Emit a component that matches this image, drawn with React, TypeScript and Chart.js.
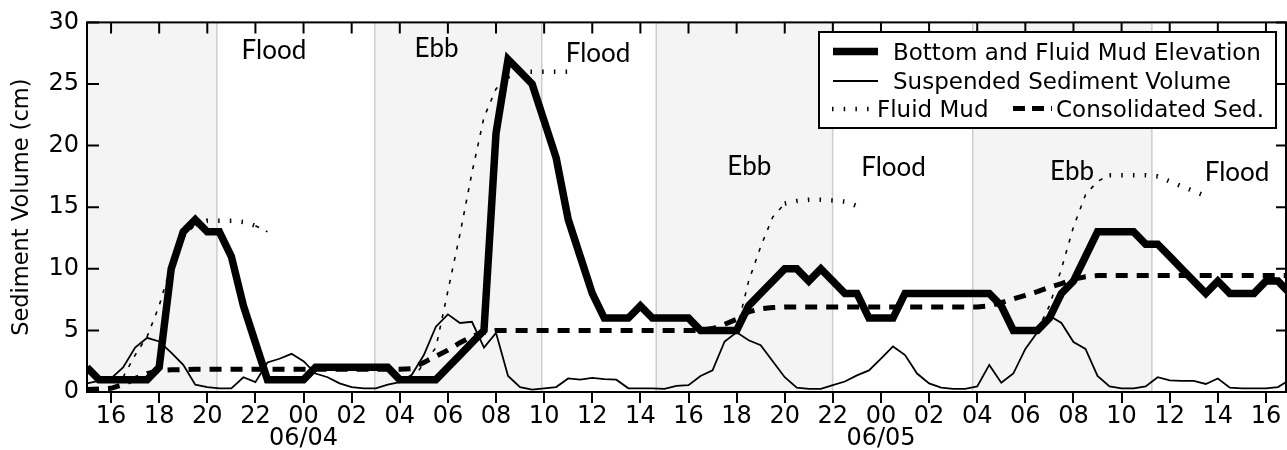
import React, { useEffect, useRef } from 'react';
import { Chart, registerables } from 'chart.js';

Chart.register(...registerables);

// Time axis: hours relative to 06/04 00:00, sampled every 30 minutes
const START_HOUR = -9;
const STEP_HOURS = 0.5;

const bottomElevation = [
  2, 1, 1, 1, 1, 1, 2, 10, 13, 14,
  13, 13, 11, 7, 4, 1, 1, 1, 1, 2,
  2, 2, 2, 2, 2, 2, 1, 1, 1, 1,
  2, 3, 4, 5, 21, 27, 26, 25, 22, 19,
  14, 11, 8, 6, 6, 6, 7, 6, 6, 6,
  6, 5, 5, 5, 5, 7, 8, 9, 10, 10,
  9, 10, 9, 8, 8, 6, 6, 6, 8, 8,
  8, 8, 8, 8, 8, 8, 7, 5, 5, 5,
  6, 8, 9, 11, 13, 13, 13, 13, 12, 12,
  11, 10, 9, 8, 9, 8, 8, 8, 9, 9,
  8,
];

const suspendedVolume = [
  0.7, 0.9, 1.1, 2.0, 3.6, 4.4, 4.1, 3.2, 2.2, 0.6,
  0.4, 0.3, 0.3, 1.2, 0.8, 2.4, 2.7, 3.1, 2.5, 1.5,
  1.2, 0.7, 0.4, 0.3, 0.3, 0.6, 0.8, 1.4, 3.0, 5.3,
  6.3, 5.6, 5.7, 3.6, 4.8, 1.3, 0.4, 0.2, 0.3, 0.4,
  1.1, 1.0, 1.15, 1.05, 1.0, 0.3, 0.3, 0.3, 0.25, 0.5,
  0.55, 1.3, 1.75, 4.1, 4.85, 4.2, 3.8, 2.5, 1.2, 0.35,
  0.25, 0.25, 0.55, 0.85, 1.35, 1.75, 2.7, 3.7, 3.0, 1.5,
  0.7, 0.35, 0.25, 0.25, 0.45, 2.2, 0.75, 1.5, 3.5, 4.85,
  6.2, 5.6, 4.05, 3.5, 1.3, 0.45, 0.3, 0.3, 0.45, 1.2,
  0.95, 0.9, 0.9, 0.65, 1.1, 0.35, 0.3, 0.3, 0.3, 0.4,
  1.0,
];

const fluidMud = [
  null, null, null, 1.2, 3.0, 4.5, 7.0, 10.3, 12.5, 13.6,
  13.9, 13.9, 13.9, 13.8, 13.5, 13.0, null, null, null, null,
  null, null, null, null, null, null, null, 1.0, 2.3, 3.6,
  8.2, 12.8, 17.8, 22.3, 24.6, 25.6, 26, 26, 26, 26,
  26, null, null, null, null, null, null, null, null, null,
  null, null, null, null, 5.0, 9.0, 11.8, 14.2, 15.3, 15.5,
  15.6, 15.6, 15.55, 15.45, 15.1, null, null, null, null, null,
  null, null, null, null, null, null, null, null, null, 5.0,
  7.0, 10.0, 13.4, 16.0, 17.1, 17.6, 17.6, 17.6, 17.6, 17.5,
  17.1, 16.7, 16.3, 15.9, null, null, null, null, null, null,
  null,
];

const consolidatedSed = [
  0.2, 0.25, 0.3, 0.6, 1.1, 1.5, 1.75, 1.8, 1.82, 1.85,
  1.85, 1.85, 1.85, 1.85, 1.85, 1.85, 1.85, 1.85, 1.85, 1.85,
  1.85, 1.85, 1.85, 1.85, 1.85, 1.85, 1.85, 1.9, 2.4, 2.9,
  3.4, 4.0, 4.5, 4.85, 5.0, 5.0, 5.0, 5.0, 5.0, 5.0,
  5.0, 5.0, 5.0, 5.0, 5.0, 5.0, 5.0, 5.0, 5.0, 5.0,
  5.0, 5.0, 5.15, 5.5, 5.9, 6.5, 6.75, 6.85, 6.9, 6.9,
  6.9, 6.9, 6.9, 6.9, 6.9, 6.9, 6.9, 6.9, 6.9, 6.9,
  6.9, 6.9, 6.9, 6.9, 6.9, 7.0, 7.25, 7.55, 7.85, 8.15,
  8.5, 8.8, 9.15, 9.35, 9.45, 9.45, 9.45, 9.45, 9.45, 9.45,
  9.45, 9.45, 9.45, 9.45, 9.45, 9.45, 9.45, 9.45, 9.45, 9.45,
  9.45,
];

const hours = bottomElevation.map((_, i) => START_HOUR + i * STEP_HOURS);

const seriesNames = [
  'Bottom and Fluid Mud Elevation',
  'Suspended Sediment Volume',
  'Fluid Mud',
  'Consolidated Sed.',
];

const tickHours = [-8, -6, -4, -2, 0, 2, 4, 6, 8, 10, 12, 14, 16, 18, 20, 22, 24, 26, 28, 30, 32, 34, 36, 38, 40];
const tickLabels: (string | string[])[] = [
  '16', '18', '20', '22', ['00', '06/04'], '02', '04', '06', '08', '10', '12', '14',
  '16', '18', '20', '22', ['00', '06/05'], '02', '04', '06', '08', '10', '12', '14', '16',
];
const yTicks = [0, 5, 10, 15, 20, 25, 30];

// Tidal phases (hours)
const ebbPeriods = [[-9, -3.6], [2.96, 9.9], [14.66, 21.99], [27.81, 35.26]];
const phaseBoundaries = [-3.6, 2.96, 9.9, 14.66, 21.99, 27.81, 35.26];
const phaseNames = ['Flood', 'Ebb', 'Flood', 'Ebb', 'Flood', 'Ebb', 'Flood'];
const phaseHours = [-1.23, 5.53, 12.24, 18.53, 24.52, 31.94, 38.8];
const phaseValues = [27.0, 27.18, 26.77, 17.64, 17.5, 17.23, 17.1];

const X_MIN = -9;
const X_MAX = 40.875;
const FONT = 'DejaVu Sans';

const toXY = (arr: (number | null)[]) => arr.map((v, i) => ({ x: hours[i], y: v }));

const isFlat = (c: any) => Math.abs(c.p1.y - c.p0.y) < 0.45 * Math.abs(c.p1.x - c.p0.x);

const decorPlugin = {
  id: 'decor',
  beforeDatasetsDraw(chart: any) {
    const { ctx, chartArea: a, scales } = chart;
    const x = scales.x;
    ctx.save();
    ctx.beginPath();
    ctx.rect(a.left, a.top, a.right - a.left, a.bottom - a.top);
    ctx.clip();
    ctx.fillStyle = '#f4f4f4';
    ebbPeriods.forEach(([s, e]) => {
      const x0 = x.getPixelForValue(s);
      const x1 = x.getPixelForValue(e);
      ctx.fillRect(x0, a.top, x1 - x0, a.bottom - a.top);
    });
    ctx.strokeStyle = '#cdcdcd';
    ctx.lineWidth = 1.5;
    phaseBoundaries.forEach((h) => {
      const px = x.getPixelForValue(h);
      ctx.beginPath();
      ctx.moveTo(px, a.top);
      ctx.lineTo(px, a.bottom);
      ctx.stroke();
    });
    ctx.restore();
  },
  afterDatasetsDraw(chart: any) {
    const { ctx, chartArea: a, scales } = chart;
    const x = scales.x;
    const y = scales.y;
    ctx.save();
    // frame
    ctx.strokeStyle = '#000';
    ctx.lineWidth = 2;
    ctx.strokeRect(a.left, a.top, a.right - a.left - 1, a.bottom - a.top);
    ctx.beginPath();
    tickHours.forEach((h) => {
      const px = x.getPixelForValue(h);
      ctx.moveTo(px, a.top);
      ctx.lineTo(px, a.top + 11);
    });
    yTicks.forEach((v) => {
      const py = y.getPixelForValue(v);
      ctx.moveTo(a.left, py);
      ctx.lineTo(a.left + 12, py);
      ctx.moveTo(a.right - 1, py);
      ctx.lineTo(a.right - 11, py);
    });
    ctx.stroke();

    // phase labels
    ctx.fillStyle = '#000';
    ctx.font = '26px Lato';
    ctx.textAlign = 'center';
    ctx.textBaseline = 'alphabetic';
    phaseNames.forEach((t, i) => {
      ctx.fillText(t, x.getPixelForValue(phaseHours[i]), y.getPixelForValue(phaseValues[i]));
    });

    // legend
    const ds = chart.data.datasets;
    const L = 819, T = 32, R = 1276, B = 128;
    ctx.fillStyle = '#fff';
    ctx.fillRect(L, T, R - L, B - T);
    ctx.strokeStyle = '#000';
    ctx.lineWidth = 2;
    ctx.strokeRect(L, T, R - L, B - T);

    const sample = (i: number, x0: number, x1: number, yy: number, width?: number, dash?: number[]) => {
      ctx.save();
      ctx.strokeStyle = '#000';
      ctx.lineWidth = width ?? ds[i].borderWidth;
      ctx.setLineDash(dash ?? ds[i].borderDash ?? []);
      ctx.lineCap = 'butt';
      ctx.beginPath();
      ctx.moveTo(x0, yy);
      ctx.lineTo(x1, yy);
      ctx.stroke();
      ctx.restore();
    };
    sample(0, 833, 878, 51.5);
    sample(1, 833, 878, 81);
    sample(2, 832, 872, 109, 4.5, [1.5, 10.2]);
    sample(3, 1013, 1052, 108.5, 5, [12, 7]);

    ctx.fillStyle = '#000';
    ctx.font = `23px "${FONT}"`;
    ctx.textAlign = 'left';
    ctx.textBaseline = 'alphabetic';
    ctx.fillText(seriesNames[0], 893, 59.5);
    ctx.fillText(seriesNames[1], 893, 88.5);
    ctx.fillText(seriesNames[2], 877, 116.8);
    ctx.fillText(seriesNames[3], 1056, 116.8);
    ctx.restore();
  },
};

export default function App() {
  const ref = useRef<HTMLCanvasElement | null>(null);
  useEffect(() => {
    if (!ref.current) return;
    const chart = new Chart(ref.current, {
      type: 'line',
      data: {
        datasets: [
          {
            label: seriesNames[0],
            data: toXY(bottomElevation),
            borderColor: '#000',
            borderWidth: 7.5,
            borderJoinStyle: 'miter',
            pointRadius: 0,
            tension: 0,
            order: 0,
          },
          {
            label: seriesNames[1],
            data: toXY(suspendedVolume),
            borderColor: '#000',
            borderWidth: 1.8,
            pointRadius: 0,
            tension: 0,
            order: 1,
          },
          {
            label: seriesNames[2],
            data: toXY(fluidMud),
            borderColor: '#000',
            borderWidth: 1.6,
            borderDash: [4, 7.7],
            pointRadius: 0,
            tension: 0,
            spanGaps: false,
            order: 3,
            segment: {
              borderWidth: (c: any) => (isFlat(c) ? 4.5 : 1.6),
              borderDash: (c: any) => (isFlat(c) ? [1.5, 10.2] : [4, 7.7]),
            },
          },
          {
            label: seriesNames[3],
            data: toXY(consolidatedSed),
            borderColor: '#000',
            borderWidth: 5,
            borderDash: [12, 9],
            pointRadius: 0,
            tension: 0,
            order: 2,
          },
        ] as any,
      },
      options: {
        animation: false,
        responsive: false,
        layout: { padding: { top: 20, right: 0, left: 0, bottom: 0 } },
        plugins: { legend: { display: false }, tooltip: { enabled: false } },
        scales: {
          x: {
            type: 'linear',
            min: X_MIN,
            max: X_MAX,
            afterBuildTicks: (s: any) => {
              s.ticks = tickHours.map((v) => ({ value: v }));
            },
            afterFit: (s: any) => {
              s.height = 58;
            },
            ticks: {
              autoSkip: false,
              maxRotation: 0,
              minRotation: 0,
              color: '#000',
              padding: 2,
              font: { family: FONT, size: 24, lineHeight: 0.95 },
              callback: (v: any) => {
                const i = tickHours.indexOf(Number(v));
                return i >= 0 ? tickLabels[i] : '';
              },
            },
            grid: { drawOnChartArea: false, drawTicks: true, tickLength: 11, color: '#000', lineWidth: 2 },
            border: { display: false },
          },
          y: {
            min: 0,
            max: 30,
            afterBuildTicks: (s: any) => {
              s.ticks = yTicks.map((v) => ({ value: v }));
            },
            afterFit: (s: any) => {
              s.width = 87;
            },
            ticks: { color: '#000', padding: 8, font: { family: FONT, size: 24 } },
            grid: { display: false, drawTicks: false },
            border: { display: false },
            title: {
              display: true,
              text: 'Sediment Volume (cm)',
              color: '#000',
              font: { family: FONT, size: 22.5 },
              padding: { top: 9, bottom: 0 },
            },
          },
        },
      } as any,
      plugins: [decorPlugin],
    });
    return () => chart.destroy();
  }, []);

  return (
    <div style={{ position: 'absolute', left: 0, top: 0, width: 1287, height: 450, background: '#fff' }}>
      <canvas ref={ref} width={1287} height={450} />
    </div>
  );
}
